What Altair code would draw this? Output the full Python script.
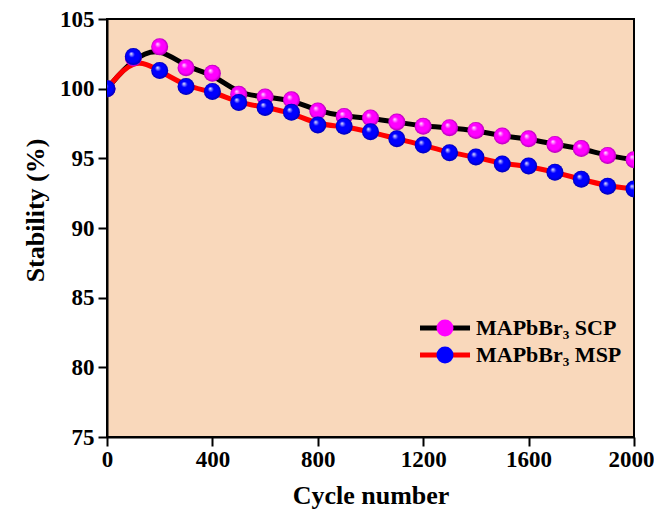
import altair as alt
import pandas as pd

# ---- data ----
cycles = [0, 100, 200, 300, 400, 500, 600, 700, 800, 900, 1000,
          1100, 1200, 1300, 1400, 1500, 1600, 1700, 1800, 1900, 2000]
scp = [100.0, 102.2, 103.0, 101.5, 101.1, 99.6, 99.4, 99.2, 98.4, 98.0, 97.9,
       97.6, 97.3, 97.2, 97.0, 96.6, 96.4, 96.0, 95.7, 95.2, 94.9]
msp = [100.0, 102.3, 101.3, 100.15, 99.8, 99.0, 98.65, 98.3, 97.4, 97.3, 96.9,
       96.4, 95.95, 95.4, 95.1, 94.6, 94.45, 94.0, 93.5, 93.0, 92.8]
series_names = ["MAPbBr\u2083 SCP", "MAPbBr\u2083 MSP"]
line_colors = ["#000000", "#FF0000"]
ball_colors = ["#FF00FF", "#0000FF"]
x_ticks = [0, 400, 800, 1200, 1600, 2000]
y_ticks = [75, 80, 85, 90, 95, 100, 105]

rows = []
for name, vals in zip(series_names, [scp, msp]):
    for c, v in zip(cycles, vals):
        rows.append({"cycle": c, "stability": v, "series": name, "series_b": name})
df = pd.DataFrame(rows)

FONT = "Liberation Serif"

x_enc = alt.X("cycle:Q", scale=alt.Scale(domain=[0, 2000], nice=False),
              axis=alt.Axis(title="Cycle number", values=x_ticks, format="d",
                            labelOffset={"condition": {"test": "datum.value === 2000",
                                                       "value": -3},
                                         "value": 0}))
y_enc = alt.Y("stability:Q", scale=alt.Scale(domain=[75, 105], nice=False, zero=False),
              axis=alt.Axis(title="Stability (%)", values=y_ticks, format="d",
                            titleX=-72, titleY=191, titleBaseline="middle",
                            titleAlign="center", titleAngle=270))

LX, LY = 313, 298
stroke_legend = alt.Legend(
    title=None, orient="none", legendX=LX, legendY=LY, padding=0,
    symbolType="M-3,0H3", symbolSize=278, symbolStrokeWidth=5, clipHeight=22,
    symbolOffset=14,
    labelFont=FONT, labelFontSize=22, labelFontWeight="bold", labelColor="black",
    labelOffset=20, rowPadding=5)
fill_legend = alt.Legend(
    title=None, orient="none", legendX=LX, legendY=LY, padding=0,
    symbolType="circle", symbolSize=289, symbolStrokeWidth=5, clipHeight=22,
    symbolOffset=14,
    symbolStrokeColor="transparent", symbolOpacity=1,
    labelFont=FONT, labelFontSize=22, labelFontWeight="bold", labelExpr="''",
    labelOffset=20, rowPadding=5)

stroke_scale = alt.Scale(domain=series_names, range=line_colors)
fill_scale = alt.Scale(range=ball_colors)

sphere = {
    "gradient": "radial",
    "x1": 0.36, "y1": 0.32, "r1": 0.0,
    "x2": 0.5, "y2": 0.5, "r2": 0.5,
    "stops": [
        {"offset": 0.0, "color": "rgba(255,255,255,0.95)"},
        {"offset": 0.35, "color": "rgba(255,255,255,0)"},
        {"offset": 0.75, "color": "rgba(0,0,0,0)"},
        {"offset": 1.0, "color": "rgba(0,0,0,0.3)"},
    ],
}

base = alt.Chart(df)
layers = []
for name in series_names:
    layers.append(
        base.transform_filter(alt.datum.series == name)
        .mark_line(interpolate="basis", strokeWidth=5, clip=True)
        .encode(x=x_enc, y=y_enc,
                stroke=alt.Stroke("series:N", scale=stroke_scale, legend=stroke_legend))
    )
for name in series_names:
    layers.append(
        base.transform_filter(alt.datum.series == name)
        .mark_point(shape="circle", filled=True, size=289, opacity=1, strokeWidth=0, clip=True)
        .encode(x=x_enc, y=y_enc,
                fill=alt.Fill("series_b:N", sort=series_names, scale=fill_scale,
                              legend=fill_legend))
    )
    layers.append(
        base.transform_filter(alt.datum.series == name)
        .mark_point(shape="circle", filled=True, size=289, opacity=1, strokeWidth=0,
                    fill=sphere, clip=True)
        .encode(x=x_enc, y=y_enc)
    )

chart = (
    alt.layer(*layers)
    .properties(width=527, height=418,
                padding={"left": 99, "top": 11, "right": 20, "bottom": 72},
                autosize=alt.AutoSizeParams(type="none"))
    .configure_view(fill="#F9D8BB", stroke="black", strokeWidth=2)
    .configure_axis(
        domainColor="black", domainWidth=2, tickColor="black", tickWidth=2, tickSize=9,
        labelFont=FONT, labelFontSize=23, labelFontWeight="bold", labelColor="black",
        titleFont=FONT, titleFontSize=26, titleFontWeight="bold", titleColor="black",
        grid=False, labelFlush=False, zindex=1)
    .configure_axisX(titlePadding=11, labelPadding=2)
    .configure_axisY(labelPadding=4)
)

chart.save("out.html", embed_options={"renderer": "svg", "actions": False})
